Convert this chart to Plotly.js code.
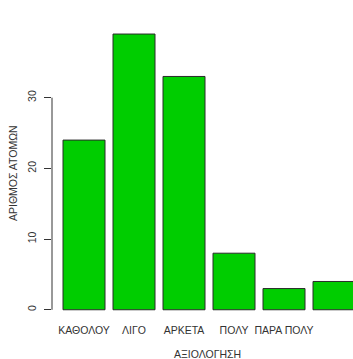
<!DOCTYPE html>
<html><head><meta charset="utf-8">
<script src="https://cdn.plot.ly/plotly-3.0.1.min.js"></script>
<style>html,body{margin:0;padding:0;background:#fff}#chart{width:353px;height:359px}</style>
</head><body><div id="chart"></div>
<script>
const categories = ["ΚΑΘΟΛΟΥ", "ΛΙΓΟ", "ΑΡΚΕΤΑ", "ΠΟΛΥ", "ΠΑΡΑ ΠΟΛΥ", ""];
const counts = [24, 39, 33, 8, 3, 4];
const yTicks = [0, 10, 20, 30];
const positions = categories.map((c, i) => i + 1);

const font = "Liberation Sans, Arial, sans-serif";
const trace = {
  type: "bar", x: positions, y: counts, width: 0.84,
  marker: {color: "#00CD00", line: {color: "#2a2a2a", width: 1}},
  hoverinfo: "skip"
};
const layout = {
  width: 353, height: 359,
  margin: {l: 52, r: 0, t: 10, b: 45},
  paper_bgcolor: "#fff", plot_bgcolor: "#fff",
  showlegend: false,
  font: {family: font, color: "#333", size: 10.5},
  xaxis: {
    range: [0.36, 6.38], tickvals: positions, ticktext: categories,
    showgrid: false, zeroline: false, showline: false, ticks: "",
    ticklabelstandoff: 8, tickfont: {size: 10.5, color: "#333"}
  },
  yaxis: {
    range: [-0.6, 42.4], tickvals: yTicks, ticktext: yTicks.map(String),
    showgrid: false, zeroline: false, showline: false,
    ticks: "outside", ticklen: 7, tickcolor: "#333", tickwidth: 1,
    tickangle: -90, ticklabelstandoff: 4, tickfont: {size: 10.5, color: "#333"}
  },
  shapes: [{type: "line", xref: "paper", yref: "y", x0: 0, x1: 0, y0: yTicks[0], y1: yTicks[yTicks.length-1],
    line: {color: "#333", width: 1}}],
  annotations: [
    {text: "ΑΞΙΟΛΟΓΗΣΗ", xref: "paper", yref: "paper", x: (207-52)/301, y: -(354-314)/304,
     showarrow: false, xanchor: "center", yanchor: "middle", font: {size: 10.5, color: "#333"}},
    {text: "ΑΡΙΘΜΟΣ ΑΤΟΜΩΝ", xref: "paper", yref: "paper", x: -(52-13)/301, y: (314-173)/304,
     showarrow: false, xanchor: "center", yanchor: "middle", textangle: -90, font: {size: 10.5, color: "#333"}}
  ]
};
Plotly.newPlot("chart", [trace], layout, {staticPlot: true, displayModeBar: false});
</script></body></html>
